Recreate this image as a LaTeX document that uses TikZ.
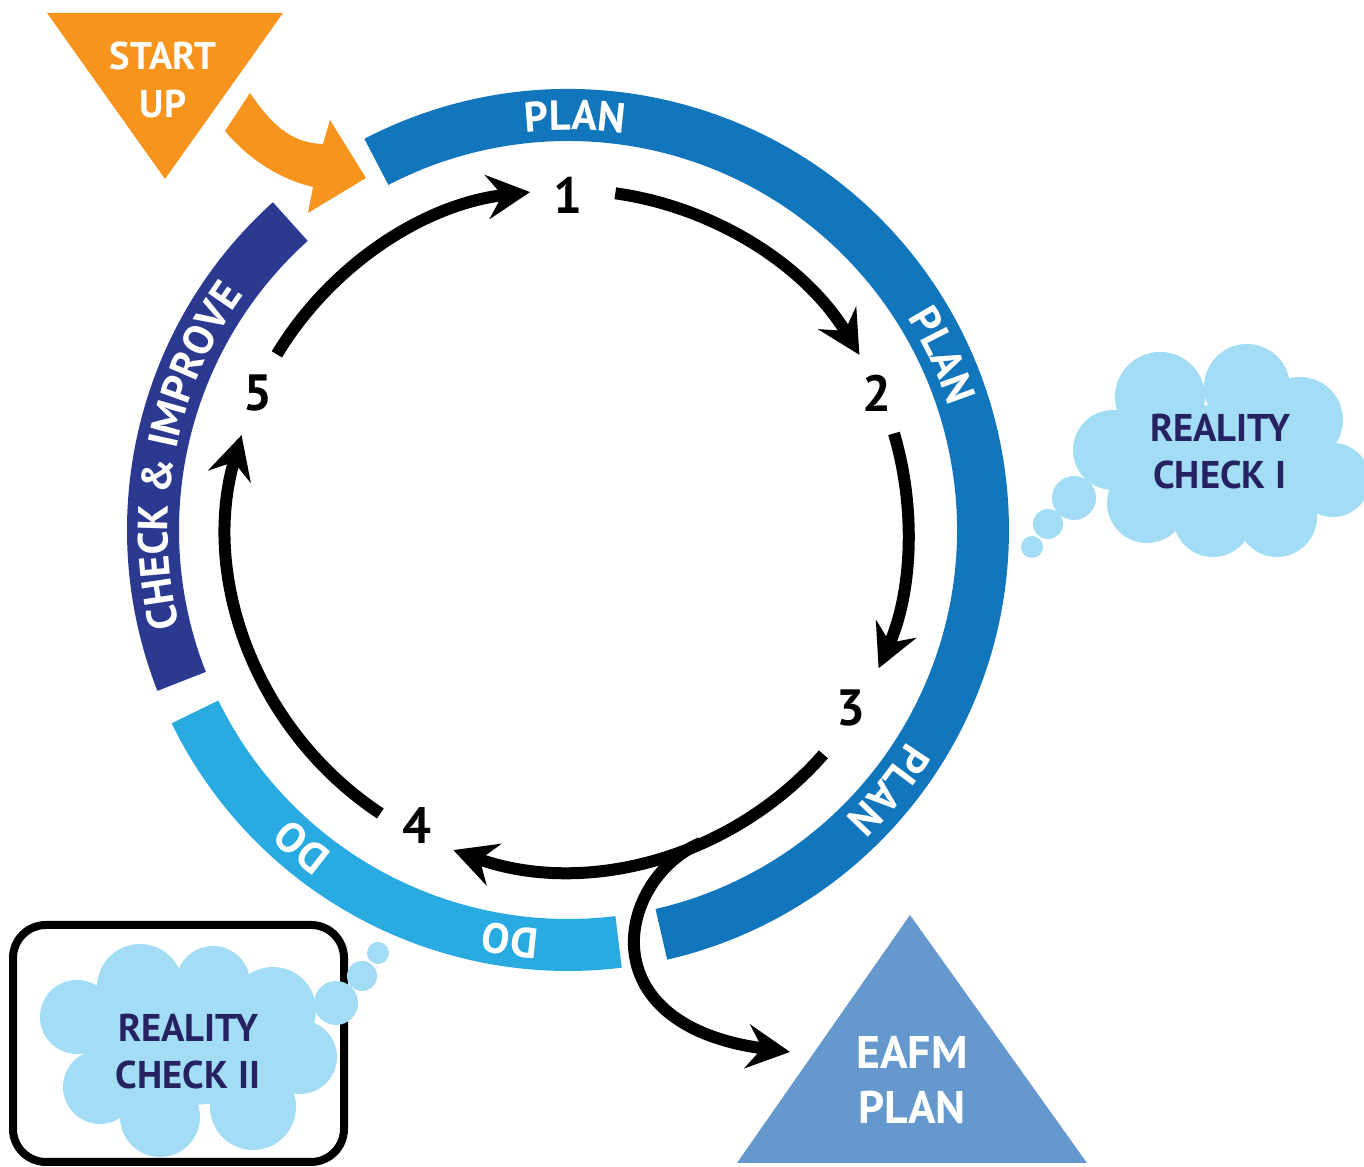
\documentclass[tikz,border=0pt]{standalone}
\usepackage{fontspec}
\setmainfont{PT Sans}
\definecolor{planblue}{RGB}{18, 118, 189}
\definecolor{doblue}{RGB}{41, 171, 226}
\definecolor{checknavy}{RGB}{43, 58, 144}
\definecolor{startorange}{RGB}{247, 148, 30}
\definecolor{eafmblue}{RGB}{101, 152, 205}
\definecolor{cloudblue}{RGB}{162, 221, 245}
\definecolor{cloudtext}{RGB}{38, 34, 98}
\usetikzlibrary{arrows.meta, calc, decorations.text}
\newcommand{\ringfont}{\bfseries\fontsize{12}{14}\selectfont}

\begin{document}
\begin{tikzpicture}[
    cyc/.style={line width=1.2mm, -{Stealth[length=4.3mm, width=4.4mm, inset=1.5mm]}},
    ringtext/.style={decorate, decoration={text along path, text align=center, text color=white, text={|\ringfont|#1}}},
    num/.style={font=\bfseries\fontsize{14.5}{16}\selectfont},
    cloudlabel/.style={font=\bfseries\fontsize{11}{13.4}\selectfont, text=cloudtext, align=center},
  ]
  \useasboundingbox (0, 0) rectangle (13.64, 11.67);
  \coordinate (C) at (5.68, 6.37);

  % Ring segments
  \fill[planblue] ([shift={(117.5:4.41)}]C) arc[start angle=117.5, end angle=-77, radius=4.41]
    -- ([shift={(-77:3.89)}]C) arc[start angle=-77, end angle=117.5, radius=3.89] -- cycle;
  \fill[doblue] ([shift={(-83:4.41)}]C) arc[start angle=-83, end angle=-154, radius=4.41]
    -- ([shift={(-154:3.89)}]C) arc[start angle=-154, end angle=-83, radius=3.89] -- cycle;
  \fill[checknavy] ([shift={(201.4:4.41)}]C) arc[start angle=201.4, end angle=132, radius=4.41]
    -- ([shift={(132:3.89)}]C) arc[start angle=132, end angle=201.4, radius=3.89] -- cycle;

  % Ring labels
  \path[ringtext=PLAN] ([shift={(119:4.0)}]C) arc[start angle=119, end angle=59, radius=4.0];
  \path[ringtext=PLAN] ([shift={(55:4.0)}]C) arc[start angle=55, end angle=-5, radius=4.0];
  \path[ringtext=PLAN] ([shift={(-9:4.0)}]C) arc[start angle=-9, end angle=-69, radius=4.0];
  \path[ringtext=DO] ([shift={(-68:4.0)}]C) arc[start angle=-68, end angle=-128, radius=4.0];
  \path[ringtext=DO] ([shift={(-100:4.0)}]C) arc[start angle=-100, end angle=-160, radius=4.0];
  \path[ringtext={CHECK {\&} IMPROVE}] ([shift={(209:4.0)}]C) arc[start angle=209, end angle=129, radius=4.0];

  % Steps
  \node[num] (n1) at (5.68, 9.72) {1};
  \node[num] (n2) at (8.77, 7.74) {2};
  \node[num] (n3) at (8.51, 4.59) {3};
  \node[num] (n4) at (4.17, 3.41) {4};
  \node[num] (n5) at (2.58, 7.74) {5};

  % Cycle arrows
  \draw[cyc] ([shift={(82:3.4)}]C) arc[start angle=82, end angle=31, radius=3.4];
  \draw[cyc] ([shift={(16.5:3.4)}]C) arc[start angle=16.5, end angle=-24, radius=3.4];
  \draw[cyc] ([shift={(-41.3:3.4)}]C) arc[start angle=-41.3, end angle=-109.7, radius=3.4];
  \draw[cyc] ([shift={(236.5:3.4)}]C) arc[start angle=236.5, end angle=163.8, radius=3.4];
  \draw[cyc] ([shift={(148.9:3.4)}]C) arc[start angle=148.9, end angle=96.4, radius=3.4];

  % Start up
  \fill[startorange] (0.47, 11.54) -- (2.83, 11.54) -- (1.65, 9.88) -- cycle;
  \node[font=\bfseries\fontsize{11}{13.4}\selectfont, text=white, align=center] (start) at (1.63, 10.87) {START\\UP};
  \fill[startorange] (2.50, 10.74) .. controls (2.75, 10.37) and (2.95, 10.24) .. (3.23, 10.23)
    -- (3.30, 10.47) -- (3.66, 9.89) -- (3.08, 9.54) -- (3.13, 9.80)
    .. controls (2.75, 9.89) and (2.45, 10.12) .. (2.25, 10.36) -- cycle;

  % EAFM plan
  \fill[eafmblue] (9.10, 2.52) -- (7.37, 0.04) -- (10.87, 0.04) -- cycle;
  \node[font=\bfseries\fontsize{13}{15.4}\selectfont, text=white, align=center] (eafm) at (9.12, 0.87) {EAFM\\PLAN};
  \coordinate (fork) at ([shift={(-67:3.4)}]C);
  \coordinate (eafmin) at (7.90, 1.15);
  \draw[cyc] (fork) .. controls +(-0.83, -0.35) and (5.85, 1.42) .. (eafmin);

  % Reality check I
  \fill[cloudblue] (11.60, 7.70) circle (0.45) (12.47, 7.80) circle (0.43) (13.00, 7.47) circle (0.43)
    (13.33, 6.87) circle (0.37) (12.77, 6.50) circle (0.40) (12.13, 6.50) circle (0.40)
    (11.47, 6.64) circle (0.40) (11.13, 7.17) circle (0.40) (12.20, 7.12) ellipse (1.0 and 0.5);
  \fill[cloudblue] (10.74, 6.69) circle (0.22) (10.48, 6.43) circle (0.15) (10.32, 6.20) circle (0.11);
  \node[cloudlabel] (rc1) at (12.20, 7.15) {REALITY\\CHECK I};

  % Reality check II
  \draw[line width=0.8mm, rounded corners=3.3mm] (0.13, 0.05) rectangle (3.44, 2.42);
  \fill[cloudblue] (1.40, 1.80) circle (0.43) (2.13, 1.84) circle (0.37) (2.73, 1.57) circle (0.43)
    (3.00, 1.10) circle (0.37) (2.53, 0.60) circle (0.43) (1.60, 0.50) circle (0.40)
    (1.00, 0.80) circle (0.37) (0.77, 1.50) circle (0.37) (1.88, 1.17) ellipse (1.0 and 0.55);
  \fill[cloudblue] (3.36, 1.64) circle (0.22) (3.62, 1.91) circle (0.15) (3.78, 2.14) circle (0.11);
  \node[cloudlabel] (rc2) at (1.88, 1.15) {REALITY\\CHECK II};
\end{tikzpicture}
\end{document}
